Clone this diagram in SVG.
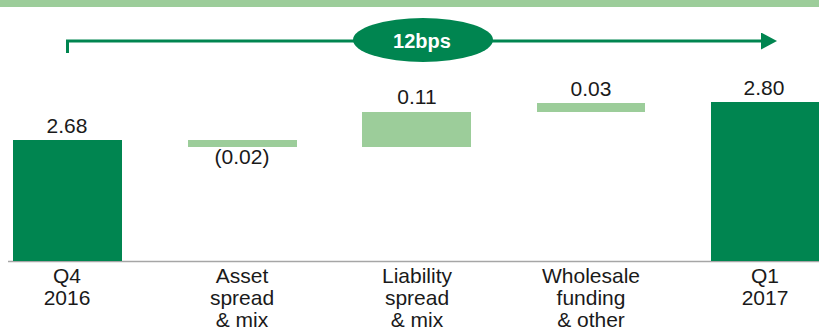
<svg xmlns="http://www.w3.org/2000/svg" width="819" height="333" viewBox="0 0 819 333">
<style>
.dark{fill:#008550}
.light{fill:#9ccd9a}
.val{font-family:"Liberation Sans",Arial,sans-serif;font-size:21px;fill:#1a1a1a;text-anchor:middle}
.cat{font-family:"Liberation Sans",Arial,sans-serif;font-size:21px;fill:#1a1a1a;text-anchor:middle}
</style>
<defs>
<marker id="ah" viewBox="0 0 16 17" refX="0" refY="8.5" markerWidth="16" markerHeight="17" markerUnits="userSpaceOnUse" orient="auto">
<path d="M0,0 L16,8.5 L0,17 Z" fill="#008550"/>
</marker>
</defs>
<rect x="0" y="0" width="819" height="7" fill="#9ccd9a"/>
<g id="connectors">
<path d="M67.5,53 V41 H761" fill="none" stroke="#008550" stroke-width="3" marker-end="url(#ah)"/>
<line x1="8" y1="261.5" x2="819" y2="261.5" stroke="#a6a6a6" stroke-width="1.5"/>
</g>
<g id="badge">
<ellipse cx="423" cy="40" rx="70" ry="22" fill="#008550"/>
<text x="422" y="48" font-family="Liberation Sans,Arial,sans-serif" font-size="20" font-weight="bold" fill="#ffffff" text-anchor="middle">12bps</text>
</g>
<g id="q4">
<rect class="dark" x="13" y="140" width="109" height="121"/>
<text class="val" x="67" y="133">2.68</text>
<text class="cat" x="67" y="283">Q4</text>
<text class="cat" x="67" y="305">2016</text>
</g>
<g id="asset">
<rect class="light" x="188" y="140" width="109" height="7"/>
<text class="val" x="242" y="164">(0.02)</text>
<text class="cat" x="242" y="283">Asset</text>
<text class="cat" x="242" y="305">spread</text>
<text class="cat" x="242" y="327">&amp; mix</text>
</g>
<g id="liability">
<rect class="light" x="362" y="112" width="109" height="35"/>
<text class="val" x="417" y="104">0.11</text>
<text class="cat" x="417" y="283">Liability</text>
<text class="cat" x="417" y="305">spread</text>
<text class="cat" x="417" y="327">&amp; mix</text>
</g>
<g id="wholesale">
<rect class="light" x="537" y="103" width="108" height="9"/>
<text class="val" x="591" y="96">0.03</text>
<text class="cat" x="591" y="283">Wholesale</text>
<text class="cat" x="591" y="305">funding</text>
<text class="cat" x="591" y="327">&amp; other</text>
</g>
<g id="q1">
<rect class="dark" x="711" y="102" width="109" height="159"/>
<text class="val" x="764" y="95">2.80</text>
<text class="cat" x="765" y="283">Q1</text>
<text class="cat" x="765" y="305">2017</text>
</g>
</svg>
